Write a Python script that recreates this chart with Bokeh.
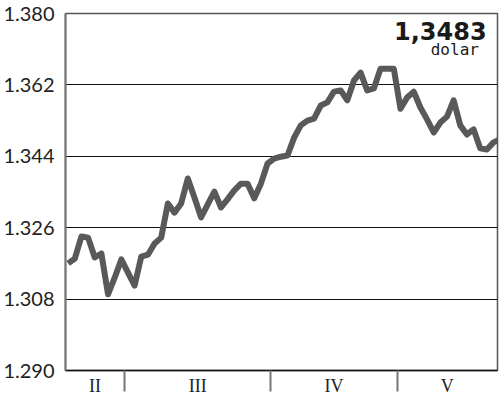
from bokeh.plotting import figure
from bokeh.models import FixedTicker, Range1d, Label, PrintfTickFormatter
from bokeh.embed import file_html
from bokeh.resources import INLINE

# Daily EUR/USD rate, business days Feb–May
rate = [1.3170, 1.3182, 1.3238, 1.3235, 1.3185, 1.3195, 1.3092, 1.3134, 1.3180,
        1.3147, 1.3114, 1.3187, 1.3192, 1.3220, 1.3235, 1.3321, 1.3298, 1.3321,
        1.3384, 1.3336, 1.3286, 1.3319, 1.3351, 1.3311, 1.3332, 1.3354, 1.3371,
        1.3371, 1.3334, 1.3371, 1.3422, 1.3434, 1.3439, 1.3442, 1.3487, 1.3518,
        1.3530, 1.3535, 1.3568, 1.3576, 1.3603, 1.3606, 1.3581, 1.3631, 1.3651,
        1.3606, 1.3611, 1.3661, 1.3661, 1.3661, 1.3560, 1.3588, 1.3603, 1.3563,
        1.3533, 1.3500, 1.3525, 1.3540, 1.3581, 1.3518, 1.3495, 1.3508, 1.3460,
        1.3457, 1.3475, 1.3483]
days = list(range(len(rate)))

months = ["II", "III", "IV", "V"]
month_days = [9, 22, 19, 16]
y_ticks = [1.290, 1.308, 1.326, 1.344, 1.362, 1.380]
last_value_text = "1,3483"
unit_text = "dolar"

# month boundaries and centres
bounds = []
acc = 0
for n in month_days:
    acc += n
    bounds.append(acc - 0.5)
x_start, x_end = -0.4, 64.6
edges = [x_start] + bounds[:-1] + [x_end]
centres = [(edges[i] + edges[i + 1]) / 2 for i in range(len(months))]

p = figure(width=500, height=401, output_backend="svg", toolbar_location=None,
           x_range=Range1d(x_start, x_end), y_range=Range1d(y_ticks[0], y_ticks[-1]),
           min_border_left=64, min_border_right=3, min_border_top=13,
           min_border_bottom=31)
p.background_fill_color = "white"
p.border_fill_color = "white"
p.outline_line_color = "#555555"
p.outline_line_width = 1.5

# y axis
p.yaxis.ticker = FixedTicker(ticks=y_ticks)
p.yaxis.formatter = PrintfTickFormatter(format="%.3f")
p.yaxis.major_tick_line_color = None
p.yaxis.minor_tick_line_color = None
p.yaxis.axis_line_color = "#777777"
p.yaxis.axis_line_width = 2
p.yaxis.major_label_standoff = 5
p.yaxis.major_label_text_font = "Lato"
p.yaxis.major_label_text_font_size = "20px"
p.yaxis.major_label_text_color = "#222222"

p.ygrid.ticker = FixedTicker(ticks=y_ticks)
p.ygrid.grid_line_color = "#111111"
p.ygrid.grid_line_width = 1
p.xgrid.grid_line_color = None

# x axis
p.xaxis.ticker = FixedTicker(ticks=centres, minor_ticks=bounds[:-1])
p.xaxis.major_label_overrides = {c: m for c, m in zip(centres, months)}
p.xaxis.major_tick_line_color = None
p.xaxis.minor_tick_in = 0
p.xaxis.minor_tick_out = 21
p.xaxis.minor_tick_line_color = "#777777"
p.xaxis.minor_tick_line_width = 2
p.xaxis.axis_line_color = "#111111"
p.xaxis.axis_line_width = 1.5
p.xaxis.major_label_standoff = -16
p.xaxis.major_label_text_font = "Liberation Serif"
p.xaxis.major_label_text_font_size = "18px"
p.xaxis.major_label_text_color = "#222222"

p.line(days, rate, line_color="#595959", line_width=6, line_join="round")

p.add_layout(Label(x=62.96, y=1.3757, text=last_value_text, text_align="right",
                   text_baseline="middle", text_font="DejaVu Sans",
                   text_font_style="bold", text_font_size="24px",
                   text_color="#1a1a1a"))
p.add_layout(Label(x=61.8, y=1.3710, text=unit_text, text_align="right",
                   text_baseline="middle", text_font="DejaVu Sans Mono",
                   text_font_size="16px", text_color="#1a1a1a"))

open("out.html", "w").write(file_html(p, INLINE))
